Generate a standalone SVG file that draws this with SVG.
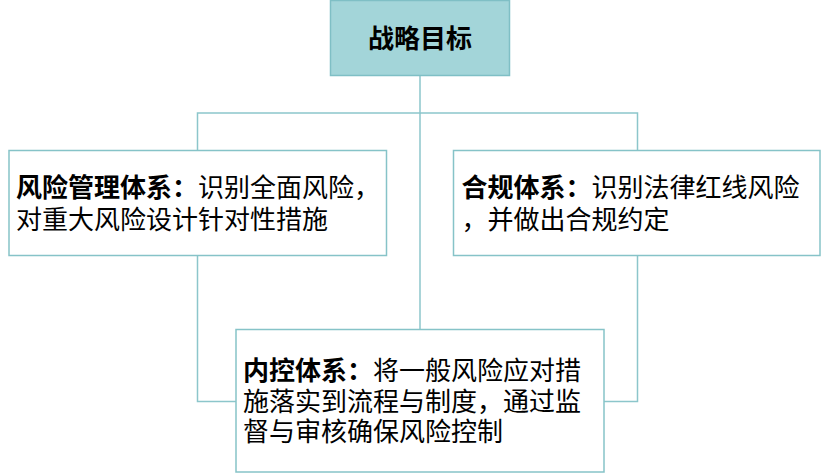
<svg xmlns="http://www.w3.org/2000/svg" width="821" height="473" viewBox="0 0 821 473">
<style>
.box{fill:#ffffff;stroke:#86C3C8;stroke-width:1.5}
.top{fill:#A3D5D9;stroke:#7FBFC5;stroke-width:1.5}
.conn{fill:none;stroke:#8CC6CB;stroke-width:1.5}
text{font-family:"Noto Sans CJK SC","Liberation Sans",sans-serif;font-size:26px;fill:#000000}
.b{font-weight:bold}
</style>
<rect width="821" height="473" fill="#ffffff"/>
<g id="connectors">
<path class="conn" d="M420,75 V113 H197.5 V401.5 H236"/>
<path class="conn" d="M420,113 H637.5 V401.5 H604"/>
<path class="conn" d="M420,113 V329.5"/>
</g>
<g id="strategy">
<rect class="top" x="330.5" y="0.5" width="179" height="75"/>
<text class="b" x="420" y="47.5" text-anchor="middle">战略目标</text>
</g>
<g id="risk">
<rect class="box" x="9" y="150.5" width="377.5" height="105"/>
<text x="16" y="196.5"><tspan class="b">风险管理体系：</tspan>识别全面风险，</text>
<text x="16" y="228.5">对重大风险设计针对性措施</text>
</g>
<g id="compliance">
<rect class="box" x="453.5" y="150.5" width="366.5" height="105"/>
<text x="461.5" y="197"><tspan class="b">合规体系：</tspan>识别法律红线风险</text>
<text x="461.5" y="229">，并做出合规约定</text>
</g>
<g id="control">
<rect class="box" x="236" y="329.5" width="368" height="142.5"/>
<text x="243" y="380"><tspan class="b">内控体系：</tspan>将一般风险应对措</text>
<text x="243" y="410.5">施落实到流程与制度，通过监</text>
<text x="243" y="441">督与审核确保风险控制</text>
</g>
</svg>
